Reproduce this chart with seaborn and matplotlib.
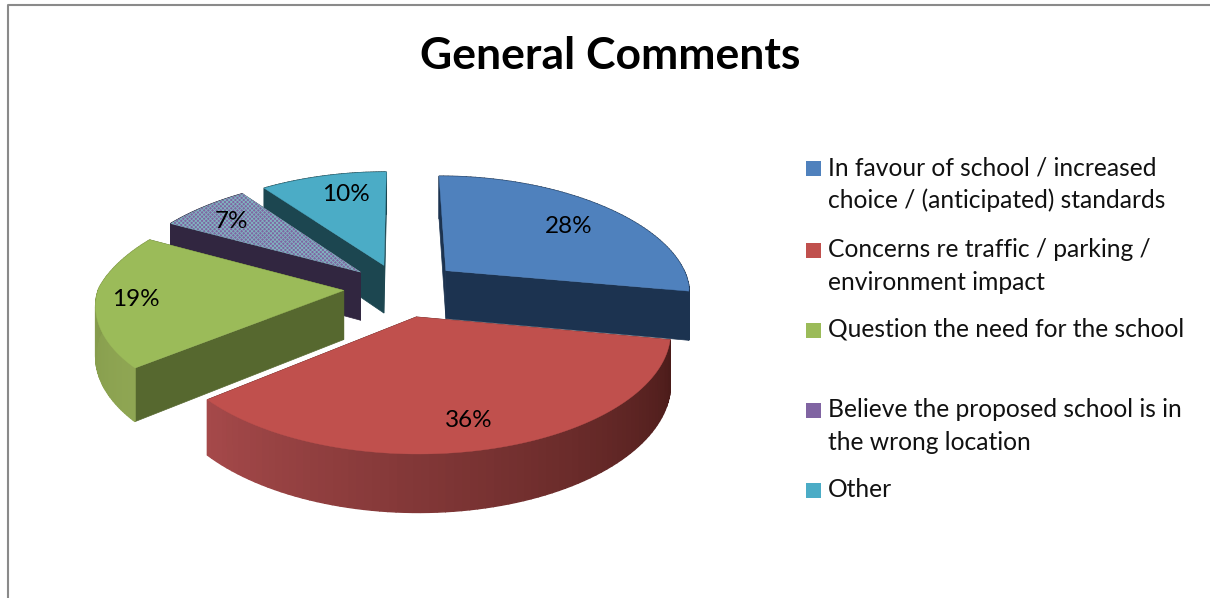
import matplotlib
matplotlib.use("Agg")
import matplotlib.pyplot as plt
from matplotlib.colors import to_rgb
from matplotlib.patches import Polygon, Rectangle
import numpy as np
import seaborn as sns

title = "General Comments"
values = [28, 36, 19, 7, 10]
labels = [
    "In favour of school / increased\nchoice / (anticipated) standards",
    "Concerns re traffic / parking /\nenvironment impact",
    "Question the need for the school",
    "Believe the proposed school is in\nthe wrong location",
    "Other",
]
top_colors = ["#4f81bd", "#c0504d", "#9bbb59", "#8064a2", "#4bacc6"]
side_colors = ["#1c3350", "#4a1b19", "#56682f", "#312640", "#1c4650"]
rim_start = ["#1c3350", "#4a1b19", "#8fa653", "#312640", "#1c4650"]
rim_end = ["#1c3350", "#a5494a", "#7e9447", "#312640", "#1c4650"]
explode = [0.25, 0.26, 0.23, 0.22, 0.22]
# where each percentage sits inside its slice
label_radius = [0.72, 0.80, 0.84, 0.79, 0.76]
label_along = [0.52, 0.51, 0.50, 0.45, 0.60]

# pie geometry, in pixels
CX, CY = 400, 288
RX, RY = 245, 111
DEPTH = 49
PERSP_BACK = 0.18
PERSP_FRONT = 0.115
PERSP_Y = 0.13


def project(u, v, z=0.0):
    sx = 1 / (1 + np.where(v > 0, PERSP_BACK, PERSP_FRONT) * v)
    sy = 1 / (1 + PERSP_Y * v)
    return CX + RX * u * sx, CY - RY * v * sy + z * DEPTH * sy


def slice_points(start, end, dist, n=80):
    mid = (start + end) / 2
    du, dv = dist * np.sin(mid), dist * np.cos(mid)
    ang = np.linspace(start, end, n)
    return du, dv, du + np.sin(ang), dv + np.cos(ang)


sns.set_style("white")
plt.rcParams["font.family"] = ["Lato", "DejaVu Sans"]
plt.rcParams["hatch.linewidth"] = 0.6

fig, ax = plt.subplots(figsize=(12.10, 5.98), dpi=100)
fig.subplots_adjust(0, 0, 1, 1)
ax.set_xlim(0, 1210)
ax.set_ylim(598, 0)
ax.axis("off")

# outer frame, only top and left show
ax.plot([8, 8, 1210], [598, 5, 5], color="#8a8a8a", lw=1.5)

fractions = np.array(values) / sum(values)
bounds = np.concatenate([[0], np.cumsum(fractions)]) * 2 * np.pi

# back to front: teal, purple, blue, green, red
for i in [4, 3, 0, 2, 1]:
    du, dv, us, vs = slice_points(bounds[i], bounds[i + 1], explode[i])

    # radial walls
    for u_end, v_end in [(us[0], vs[0]), (us[-1], vs[-1])]:
        wall = [project(du, dv), project(u_end, v_end),
                project(u_end, v_end, 1), project(du, dv, 1)]
        ax.add_patch(Polygon(wall, fc=side_colors[i], ec=side_colors[i], lw=0.5))

    # rim, shaded along the arc
    c0, c1 = np.array(to_rgb(rim_start[i])), np.array(to_rgb(rim_end[i]))
    for k in range(len(us) - 1):
        t = k / (len(us) - 2)
        col = c0 + (c1 - c0) * t
        quad = [project(us[k], vs[k]), project(us[k + 1], vs[k + 1]),
                project(us[k + 1], vs[k + 1], 1), project(us[k], vs[k], 1)]
        ax.add_patch(Polygon(quad, fc=col, ec=col, lw=1.0))

    # top face
    xs, ys = project(np.r_[du, us], np.r_[dv, vs])
    hatch = "xxxxxxxx" if i == 3 else None
    ax.add_patch(Polygon(np.c_[xs, ys], fc=top_colors[i], ec="#7fb4c0" if i == 3 else top_colors[i],
                         lw=0.3, hatch=hatch))

    # percentage label
    ang = bounds[i] + label_along[i] * (bounds[i + 1] - bounds[i])
    lx, ly = project(du + label_radius[i] * np.sin(ang), dv + label_radius[i] * np.cos(ang))
    ax.text(lx, ly, f"{values[i]}%", ha="center", va="center", fontsize=17.5, color="black")

ax.text(610, 56, title, ha="center", va="center", fontsize=32, fontweight="bold", color="black")

# legend, drawn by hand to keep the uneven spacing of the original
legend_y = [175, 257, 337, 417, 497]
for lab, col, y in zip(labels, top_colors, legend_y):
    ax.add_patch(Rectangle((806, y - 14), 15, 15, fc=col, ec="none"))
    for j, line in enumerate(lab.split("\n")):
        ax.text(828, y + j * 32.5, line, ha="left", va="baseline", fontsize=17.7, color="#111111")

fig.savefig("out.png", dpi=100)
